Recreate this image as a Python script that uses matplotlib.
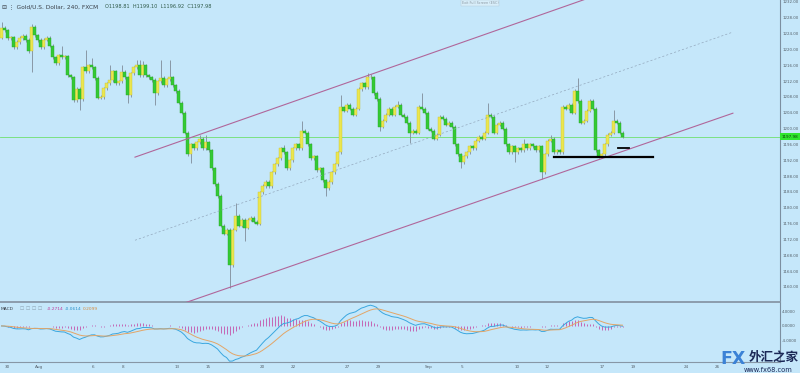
import numpy as np
import pandas as pd
import matplotlib
matplotlib.use("Agg")
import matplotlib.pyplot as plt

# 4h closes (open of each bar = previous close)
first_open = 1223.0
closes = [
    1225.5, 1224.8, 1222.9, 1223.1, 1220.6, 1221.9, 1222.9, 1223.4, 1222.4, 1219.5,
    1225.8, 1223.6, 1222.4, 1220.6, 1222.5, 1223.0, 1221.0, 1218.0, 1216.5, 1218.5,
    1218.0, 1218.3, 1213.5, 1213.0, 1207.2, 1210.0, 1207.5, 1215.5, 1214.5, 1216.0,
    1215.5, 1212.8, 1207.8, 1208.0, 1210.2, 1211.5, 1212.3, 1214.5, 1211.5, 1212.0,
    1214.3, 1213.0, 1208.5, 1214.0, 1215.5, 1216.0, 1213.5, 1216.0, 1213.5, 1213.0,
    1212.3, 1209.0, 1212.0, 1212.8, 1211.0, 1212.5, 1213.0, 1211.0, 1209.5, 1206.5,
    1204.0, 1199.0, 1193.5, 1196.0, 1195.0, 1196.5, 1197.5, 1195.0, 1196.5, 1194.5,
    1190.0, 1186.0, 1183.0, 1175.5, 1173.5, 1174.5, 1165.5, 1174.5, 1178.0, 1175.5,
    1177.0, 1175.0, 1177.0, 1177.5, 1176.5, 1176.0, 1183.9, 1185.5, 1186.5, 1185.5,
    1189.0, 1191.0, 1192.5, 1195.0, 1194.0, 1190.0, 1192.0, 1195.0, 1196.0, 1195.0,
    1199.5, 1199.0, 1196.0, 1192.5, 1193.0, 1189.5, 1190.0, 1187.0, 1185.0, 1186.5,
    1189.0, 1191.0, 1194.0, 1205.4, 1204.5, 1206.0, 1205.0, 1203.5, 1205.0, 1210.0,
    1211.5, 1210.5, 1213.0, 1213.0, 1209.0, 1207.5, 1200.5, 1202.0, 1203.5, 1205.0,
    1203.5, 1205.5, 1206.0, 1203.5, 1203.0, 1201.5, 1199.0, 1199.5, 1199.0, 1205.5,
    1205.0, 1204.0, 1200.0, 1199.5, 1197.5, 1198.5, 1203.0, 1202.5, 1201.0, 1201.5,
    1200.5, 1196.0, 1193.5, 1191.5, 1193.0, 1194.0, 1195.5, 1195.0, 1197.0, 1198.0,
    1197.5, 1199.0, 1203.5, 1203.0, 1199.0, 1201.0, 1201.5, 1200.0, 1196.0, 1194.0,
    1195.5, 1194.0, 1195.0, 1194.5, 1196.0, 1195.0, 1196.0, 1195.5, 1194.5, 1195.5,
    1189.0, 1193.5, 1197.0, 1197.5, 1194.0, 1194.5, 1194.0, 1205.5, 1205.0, 1206.0,
    1204.0, 1209.5, 1207.0, 1201.5, 1202.0, 1204.5, 1207.0, 1205.0, 1194.5, 1193.0,
    1193.5, 1196.0, 1198.5, 1199.0, 1202.0, 1201.5, 1199.0, 1197.98,
]
# bars with visible long wicks (bar index -> price)
wick_highs = {0: 1227.0, 10: 1226.5, 20: 1221.0, 28: 1219.8, 30: 1217.8, 36: 1216.0,
              40: 1216.0, 45: 1217.3, 46: 1217.3, 47: 1217.0, 53: 1217.3, 56: 1217.3,
              66: 1198.3, 68: 1198.5, 78: 1181.3, 94: 1195.8, 100: 1202.0, 113: 1208.4,
              122: 1214.0, 123: 1213.8, 132: 1207.0, 140: 1209.0, 162: 1206.5,
              174: 1197.5, 183: 1198.3, 192: 1212.8, 204: 1204.7}
wick_lows = {10: 1214.3, 26: 1204.7, 42: 1206.4, 51: 1206.0, 63: 1191.2, 76: 1159.8,
             81: 1171.7, 108: 1183.1, 126: 1199.5, 136: 1196.3, 153: 1190.0,
             171: 1191.5, 180: 1187.4, 200: 1192.5}

tick_pos = [1.8, 12.5, 30.5, 40.5, 58.5, 68.8, 86.8, 97.2, 115.2, 125.5,
            142.5, 153.5, 171.8, 181.8, 200.2, 210.5, 228.2, 238.5]
tick_labels = ["30", "Aug", "6", "8", "13", "15", "20", "22", "27", "29",
               "Sep", "5", "10", "12", "17", "19", "24", "26"]

# trend channel (bar index, price)
upper_line = ([44.5, 199.5], [1192.8, 1234.0])
mid_line = ([44.5, 243.8], [1171.8, 1224.4])
lower_line = ([61.2, 243.8], [1156.0, 1203.9])
support_long = ([184.2, 217.2], [1192.75, 1192.75])
support_short = ([205.5, 209.2], [1195.1, 1195.1])
last_price = 1197.98

price_ticks = np.arange(1160, 1233, 4)
macd_ticks = [4, 0, -4]

BG = "#c5e7fa"
UP = "#ebe64e"
DOWN = "#34c934"
WICK = "#7f8c99"
WICK_PAD = 0.4

closes = np.array(closes)
opens = np.concatenate([[first_open], closes[:-1]])
highs = np.maximum(opens, closes) + WICK_PAD
lows = np.minimum(opens, closes) - WICK_PAD
for k, v in wick_highs.items():
    highs[k] = v
for k, v in wick_lows.items():
    lows[k] = v
idx = np.arange(len(closes))

s = pd.Series(closes)
macd = s.ewm(span=12, adjust=False).mean() - s.ewm(span=26, adjust=False).mean()
signal = macd.ewm(span=9, adjust=False).mean()
hist = macd - signal

fig = plt.figure(figsize=(8, 3.73), dpi=100, facecolor=BG)
ax = fig.add_axes([0, 1 - 302 / 373, 780 / 800, 302 / 373])
axm = fig.add_axes([0, 11 / 373, 780 / 800, 59 / 373])

for a in (ax, axm):
    a.set_facecolor(BG)
    a.set_xlim(-0.5, 259.5)
    for sp in ("top", "left"):
        a.spines[sp].set_visible(False)
    a.spines["right"].set_color("#7c8fa0")
    a.spines["right"].set_linewidth(0.8)
    a.spines["bottom"].set_color("#8797a6")
    a.yaxis.tick_right()
    a.tick_params(axis="y", length=0, labelsize=2.9, labelcolor="#55606a", pad=1.6)
ax.spines["bottom"].set_linewidth(1.3)
axm.spines["bottom"].set_linewidth(0.8)

# candles
up = closes >= opens
ax.vlines(idx, lows, highs, color=WICK, lw=0.6, zorder=2)
ax.bar(idx[up], (closes - opens)[up], bottom=opens[up], width=0.7,
       color=UP, edgecolor="#c9c23a", linewidth=0.3, zorder=3)
ax.bar(idx[~up], (closes - opens)[~up], bottom=opens[~up], width=0.7,
       color=DOWN, edgecolor="#28a828", linewidth=0.3, zorder=3)

ax.axhline(last_price, color="#6fe06f", lw=0.6, zorder=1)
ax.plot(*upper_line, color="#b0669a", lw=0.8, zorder=4)
ax.plot(*lower_line, color="#b0669a", lw=0.8, zorder=4)
ax.plot(*mid_line, color="#93a8bd", lw=0.5, ls=(0, (3, 3)), zorder=4)
ax.plot(*support_long, color="black", lw=1.6, zorder=5)
ax.plot(*support_short, color="black", lw=1.3, zorder=5)

ax.set_ylim(1156.2, 1232.5)
ax.set_yticks(price_ticks)
ax.set_yticklabels([f"{v:.2f}" for v in price_ticks])
ax.set_xticks([])
ax.text(1.002, last_price, f"{last_price:.2f}", transform=ax.get_yaxis_transform(),
        fontsize=3.0, color="#0b3d0b", va="center", ha="left",
        bbox=dict(boxstyle="square,pad=0.3", fc="#2fe62f", ec="none"), zorder=6,
        clip_on=False)

# MACD panel
axm.vlines(idx, 0, hist, color="#c467b4", lw=0.7)
axm.plot(idx, macd, color="#3aa7df", lw=0.7)
axm.plot(idx, signal, color="#e3a566", lw=0.7)
axm.set_ylim(-9.9, 6.3)
axm.set_yticks(macd_ticks)
axm.set_yticklabels([f"{v:.4f}" for v in macd_ticks])
axm.set_xticks(tick_pos)
axm.set_xticklabels(tick_labels)
axm.tick_params(axis="x", length=0, labelsize=3.0, labelcolor="#55606a", pad=2)

# header texts
fig.text(0.002, 1 - 7 / 373, "⊟ ⋮ Gold/U.S. Dollar, 240, FXCM", fontsize=4.2,
         color="#3a4048", va="center")
fig.text(105 / 800, 1 - 7 / 373, "O1198.81  H1199.10  L1196.92  C1197.98", fontsize=3.6,
         color="#2f5a48", va="center")
fig.text(480 / 800, 1 - 3 / 373, "Exit Full Screen (ESC)", fontsize=2.4,
         color="#8a96a0", va="center", ha="center",
         bbox=dict(boxstyle="square,pad=0.3", fc="#d8eefa", ec="#b4c8d6", lw=0.3))
fig.text(0.001, 1 - 309 / 373, "MACD", fontsize=3.2, color="#3a4048", va="center")
for k in range(4):
    fig.text((20 + 6 * k) / 800, 1 - 309 / 373, "☐", fontsize=3.4, color="#8aa0b0",
             va="center")
fig.text(47 / 800, 1 - 309 / 373, f"{hist.iloc[-1]:.4f}", fontsize=3.2,
         color="#c03c9c", va="center")
fig.text(65 / 800, 1 - 309 / 373, f"{macd.iloc[-1]:.4f}", fontsize=3.2,
         color="#2a8fc8", va="center")
fig.text(83 / 800, 1 - 309 / 373, f"{signal.iloc[-1]:.4f}", fontsize=3.2,
         color="#d8893a", va="center")

# watermark
fig.text(720 / 800, 1 - 359 / 373, "FX", fontsize=12.5, fontweight="bold",
         color="#3b82d6", va="center", ha="left", family="DejaVu Sans")
fig.text(749 / 800, 1 - 357 / 373, "外汇之家", fontsize=9, fontweight="bold",
         color="#1b2857", va="center", ha="left", family=["Noto Sans CJK SC", "DejaVu Sans"])
fig.text(744 / 800, 1 - 369.5 / 373, "www.fx68.com", fontsize=4.8, color="#1b2857",
         va="center", ha="left")

fig.savefig("out.png", dpi=100, facecolor=BG)
